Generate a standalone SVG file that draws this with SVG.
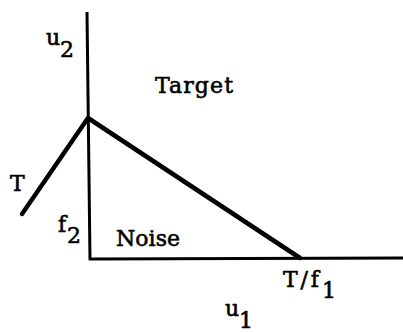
<svg xmlns="http://www.w3.org/2000/svg" width="403" height="332" viewBox="0 0 403 332">
<style>
.ln{stroke:#000;stroke-width:4.5;fill:none;stroke-linecap:round;stroke-linejoin:round}
.ax{stroke:#000;stroke-width:3;fill:none}
text{font-family:"DejaVu Serif","Liberation Serif",serif;font-size:22px;fill:#000;stroke:#000;stroke-width:0.6}
</style>
<g id="connectors">
<line class="ax" x1="87" y1="12" x2="90" y2="260"/>
<line class="ax" x1="89" y1="259" x2="403" y2="258"/>
<polyline class="ln" points="22,214 88,118 300,258"/>
</g>
<g id="u2"><text x="46" y="45">u</text><text x="60" y="57">2</text></g>
<g id="target"><text x="155" y="93" textLength="78">Target</text></g>
<g id="T"><text x="10" y="191">T</text></g>
<g id="f2"><text x="58" y="232">f</text><text x="67" y="243">2</text></g>
<g id="noise"><text x="116" y="246" textLength="64">Noise</text></g>
<g id="Tf1"><text x="283" y="287" textLength="36">T/f</text><text x="322" y="298">1</text></g>
<g id="u1"><text x="225" y="316">u</text><text x="239" y="328">1</text></g>
</svg>
